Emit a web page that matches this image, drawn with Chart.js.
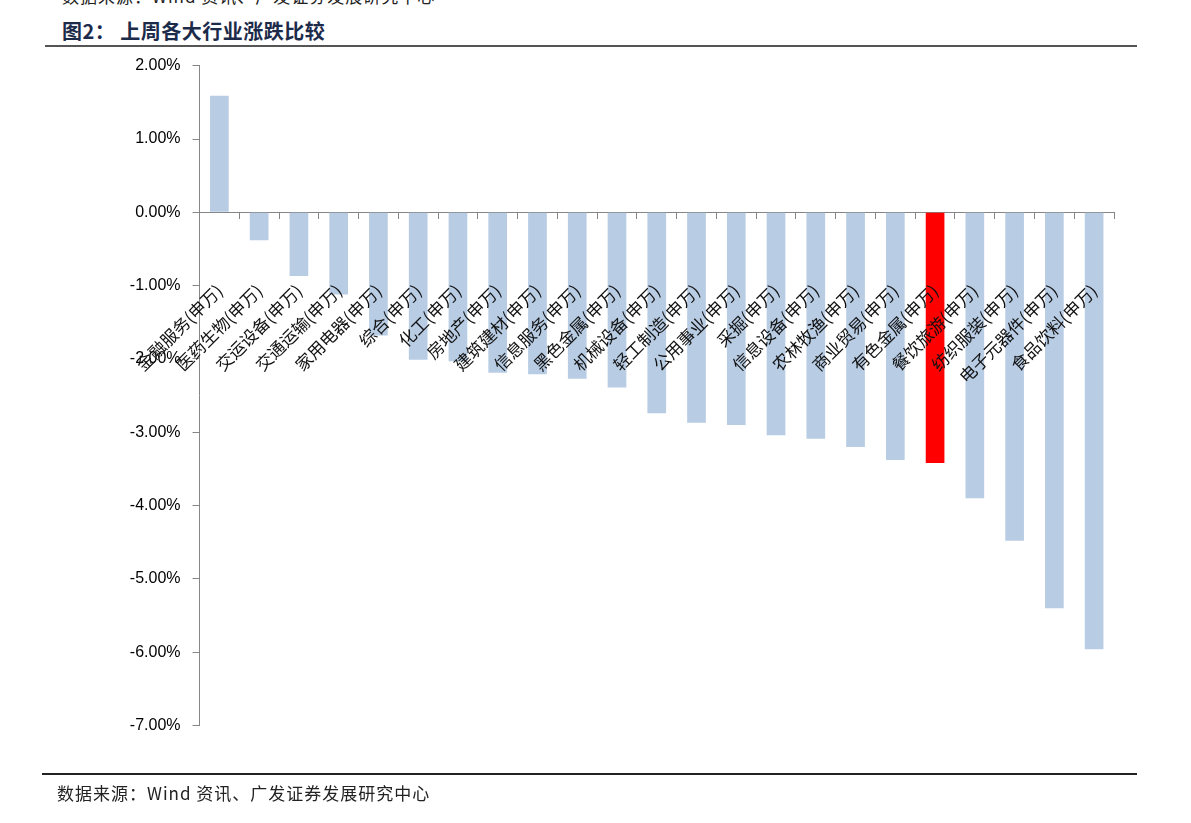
<!DOCTYPE html>
<html lang="zh-CN">
<head>
<meta charset="utf-8">
<title>上周各大行业涨跌比较</title>
<script src="https://cdn.jsdelivr.net/npm/chart.js@4/dist/chart.umd.min.js"></script>
<style>
  html, body { margin: 0; padding: 0; background: #fff; }
  body { width: 1191px; height: 823px; position: relative; overflow: hidden; }
  .cut-note { position: absolute; left: 62px; top: -17px; font: 17px "Noto Sans CJK SC", sans-serif; color: #222; letter-spacing: 1px; }
  .title { position: absolute; left: 62px; top: 16px; font: bold 20px "Noto Sans CJK SC", sans-serif; color: #1c2b4a; letter-spacing: 0.5px; }
  .rule-top { position: absolute; left: 45px; top: 45px; width: 1092px; height: 0; border-top: 2px solid #555; }
  .rule-bottom { position: absolute; left: 42px; top: 773px; width: 1095px; height: 0; border-top: 2px solid #222; }
  .source { position: absolute; left: 57px; top: 780px; font: 17px "Noto Sans CJK SC", sans-serif; color: #222; letter-spacing: 1px; }
  #wrap { position: absolute; left: 0; top: 0; width: 1191px; height: 823px; }
</style>
</head>
<body>
<div class="cut-note">数据来源：Wind 资讯、广发证券发展研究中心</div>
<div class="title">图2：&nbsp;上周各大行业涨跌比较</div>
<div class="rule-top"></div>
<div id="wrap"><canvas id="chart"></canvas></div>
<div class="rule-bottom"></div>
<div class="source">数据来源：Wind 资讯、广发证券发展研究中心</div>

<script>
const industries = [
  '金融服务(申万)', '医药生物(申万)', '交运设备(申万)', '交通运输(申万)', '家用电器(申万)',
  '综合(申万)', '化工(申万)', '房地产(申万)', '建筑建材(申万)', '信息服务(申万)',
  '黑色金属(申万)', '机械设备(申万)', '轻工制造(申万)', '公用事业(申万)', '采掘(申万)',
  '信息设备(申万)', '农林牧渔(申万)', '商业贸易(申万)', '有色金属(申万)', '餐饮旅游(申万)',
  '纺织服装(申万)', '电子元器件(申万)', '食品饮料(申万)'
];

// weekly change, %
const weeklyChange = [
  1.59, -0.38, -0.87, -1.12, -1.68,
  -2.01, -2.03, -2.19, -2.21, -2.27,
  -2.39, -2.74, -2.87, -2.90, -3.04,
  -3.09, -3.20, -3.38, -3.42, -3.90,
  -4.48, -5.40, -5.96
];

const highlighted = '有色金属(申万)';

const yMin = -7;
const yMax = 2;
const yStep = 1;

const barColors = industries.map(name => name === highlighted ? '#ff0000' : '#b8cce4');

new Chart(document.getElementById('chart').getContext('2d'), {
  type: 'bar',
  data: {
    labels: industries,
    datasets: [{
      data: weeklyChange,
      backgroundColor: barColors,
      borderWidth: 0,
      categoryPercentage: 1,
      barPercentage: 0.47
    }]
  },
  options: {
    responsive: true,
    maintainAspectRatio: false,
    animation: false,
    layout: { padding: { left: 99.5, right: 77, top: 65.7, bottom: 97.5 } },
    plugins: {
      legend: { display: false },
      tooltip: { enabled: false }
    },
    scales: {
      x: {
        position: { y: 0 },
        grid: {
          offset: true,
          drawOnChartArea: false,
          tickLength: 6,
          color: '#868686'
        },
        border: { color: '#868686', width: 1 },
        ticks: {
          z: 1, // labels sit on top of the bars, like the original
          autoSkip: false,
          maxRotation: 45,
          minRotation: 45,
          padding: 62,
          color: '#111',
          font: { family: '"Noto Sans CJK SC", sans-serif', size: 17 }
        }
      },
      y: {
        min: yMin,
        max: yMax,
        afterFit: scale => { scale.width = 100; },
        grid: {
          drawOnChartArea: false,
          tickLength: 7,
          color: '#868686'
        },
        border: { color: '#868686', width: 1 },
        ticks: {
          stepSize: yStep,
          padding: 12,
          color: '#000',
          font: { family: '"Liberation Sans", Arial, sans-serif', size: 16 },
          callback: v => v.toFixed(2) + '%'
        }
      }
    }
  }
});
</script>
</body>
</html>
